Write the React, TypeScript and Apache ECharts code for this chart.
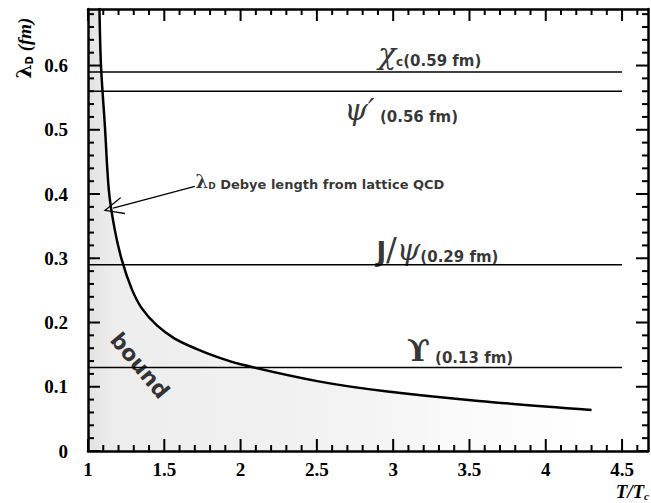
import React, { useEffect, useRef } from "react";
import * as echarts from "echarts";

// ---- axes ----
const X_MIN = 1;
const X_MAX = 4.67;
const X_INTERVAL = 0.5;
const X_MINOR = 0.1;
const Y_MIN = 0;
const Y_MAX = 0.688;
const Y_INTERVAL = 0.1;
const Y_MINOR = 0.02;

// ---- Debye screening length from lattice QCD (T/Tc -> fm) ----
const debyeT = [1.075, 1.085, 1.111, 1.137, 1.175, 1.222, 1.287, 1.353, 1.45, 1.568, 1.71, 1.84, 2.0, 2.52, 2.95, 3.56, 4.3];
const debyeL = [0.69, 0.6, 0.505, 0.405, 0.345, 0.297, 0.252, 0.222, 0.196, 0.175, 0.159, 0.147, 0.135, 0.108, 0.093, 0.078, 0.064];

// ---- quarkonium radii (fm) ----
const stateKeys = ["chi", "psi2S", "jpsi", "upsilon"];
const stateRadii = [0.59, 0.56, 0.29, 0.13];
const levelStart = 1;
const levelEnd = 4.5;

// ---- layout of annotations (data coordinates of label anchors) ----
const labelAnchors: Record<string, [number, number]> = {
  chi: [2.9, 0.622],
  psi2S: [2.68, 0.534],
  jpsi: [2.89, 0.316],
  upsilon: [3.09, 0.16],
};
const debyeAnchor: [number, number] = [1.705, 0.422];
const arrowFrom: [number, number] = [1.7, 0.412];
const arrowTo: [number, number] = [1.165, 0.378];
const boundAnchor: [number, number] = [1.34, 0.133];

const SANS = "'DejaVu Sans', sans-serif";
const SERIF = "'DejaVu Serif', serif";
const TIMES = "'Liberation Serif', 'Times New Roman', serif";

function stateLabel(key: string, r: number): string {
  const t = `(${r.toFixed(2)} fm)`;
  if (key === "chi") return `{g|χ}{s|c}{t|${t}}`;
  if (key === "psi2S") return `{g|ψ′}{t| ${t}}`;
  if (key === "jpsi") return `{j|J}{sl|/}{g|ψ}{t|${t}}`;
  return `{u|ϒ}{t| ${t}}`;
}

const richStyles = {
  g: { fontFamily: SERIF, fontStyle: "italic", fontSize: 30, color: "#000", verticalAlign: "bottom", lineHeight: 34 },
  s: { fontFamily: SANS, fontWeight: "bold", fontSize: 12, color: "#000", verticalAlign: "bottom", lineHeight: 20 },
  t: { fontFamily: SANS, fontWeight: "bold", fontSize: 15, color: "#000", verticalAlign: "bottom", lineHeight: 26 },
  j: { fontFamily: SANS, fontWeight: "bold", fontSize: 26, color: "#000", verticalAlign: "bottom", lineHeight: 32 },
  sl: { fontFamily: SANS, fontSize: 32, color: "#000", verticalAlign: "bottom", lineHeight: 34 },
  u: { fontFamily: SERIF, fontWeight: "bold", fontSize: 30, color: "#000", verticalAlign: "bottom", lineHeight: 34 },
};

// tick positions along the frame (structure of the axes)
function buildTicks(min: number, max: number, step: number, perMajor: number) {
  const out: { v: number; major: boolean }[] = [];
  const n = Math.floor((max - min) / step + 1e-6);
  for (let i = 0; i <= n; i++) {
    out.push({ v: Math.round((min + i * step) * 1000) / 1000, major: i % perMajor === 0 });
  }
  return out;
}

export default function App() {
  const ref = useRef<HTMLDivElement>(null);

  useEffect(() => {
    if (!ref.current) return;
    const chart = echarts.init(ref.current, null, { renderer: "svg" });

    const curve = debyeT.map((t, i) => [t, debyeL[i]]);
    const shade = [[X_MIN, Y_MAX], ...curve];

    const levelSeries = stateRadii.map((r, i) => ({
      type: "line",
      name: stateKeys[i],
      data: [
        [levelStart, r],
        [levelEnd, r],
      ],
      showSymbol: false,
      symbol: "none",
      silent: true,
      lineStyle: { color: "#000", width: 1.6 },
      z: 3,
    }));

    const annotations = stateKeys.map((k, i) => ({
      value: labelAnchors[k],
      label: { formatter: stateLabel(k, stateRadii[i]) },
    }));

    const axisCommonX = {
      type: "value",
      min: X_MIN,
      max: X_MAX,
      interval: X_INTERVAL,
      splitLine: { show: false },
      axisLine: { show: true, onZero: false, lineStyle: { color: "#000", width: 2.5 } },
      axisTick: { show: false },
      minorTick: { show: false },
    };
    const axisCommonY = {
      type: "value",
      min: Y_MIN,
      max: Y_MAX,
      interval: Y_INTERVAL,
      splitLine: { show: false },
      axisLine: { show: true, onZero: false, lineStyle: { color: "#000", width: 2.5 } },
      axisTick: { show: false },
      minorTick: { show: false },
    };
    const tickFont = { fontFamily: TIMES, fontWeight: "bold", fontSize: 19, color: "#000" };

    chart.setOption({
      animation: false,
      backgroundColor: "#fff",
      grid: { left: 88, right: 3, top: 9, bottom: 52, containLabel: false },
      xAxis: [
        {
          ...axisCommonX,
          position: "bottom",
          axisLabel: { ...tickFont, margin: 9, showMaxLabel: false, formatter: (v: number) => String(v) },
        },
        { ...axisCommonX, position: "top", axisLabel: { show: false } },
      ],
      yAxis: [
        {
          ...axisCommonY,
          position: "left",
          axisLabel: {
            ...tickFont,
            margin: 20,
            showMaxLabel: false,
            formatter: (v: number) => (v === 0 ? "0" : v.toFixed(1)),
          },
        },
        { ...axisCommonY, position: "right", axisLabel: { show: false } },
      ],
      series: [
        {
          type: "line",
          name: "shade",
          data: shade,
          smooth: 0.3,
          showSymbol: false,
          symbol: "none",
          silent: true,
          lineStyle: { width: 0 },
          areaStyle: {
            color: new echarts.graphic.LinearGradient(0, 0, 1, 0, [
              { offset: 0, color: "rgba(0,0,0,0.16)" },
              { offset: 0.05, color: "rgba(0,0,0,0.10)" },
              { offset: 0.5, color: "rgba(0,0,0,0.07)" },
              { offset: 0.75, color: "rgba(0,0,0,0.03)" },
              { offset: 1, color: "rgba(0,0,0,0.0)" },
            ]),
          },
          z: 1,
        },
        {
          type: "line",
          name: "Debye length",
          data: curve,
          smooth: 0.3,
          showSymbol: false,
          symbol: "none",
          silent: true,
          lineStyle: { color: "#000", width: 2.5 },
          z: 4,
          markLine: {
            silent: true,
            symbol: ["none", "path://M6,0 L12,16 L11,16 L6,2.5 L1,16 L0,16 Z"],
            symbolSize: [18, 20],
            lineStyle: { color: "#000", width: 1.3, type: "solid" },
            label: { show: false },
            data: [[{ coord: arrowFrom }, { coord: arrowTo }]],
          },
        },
        ...levelSeries,
        {
          type: "scatter",
          name: "labels",
          symbolSize: 0,
          silent: true,
          data: annotations,
          label: { show: true, position: "right", distance: 0, color: "#000", rich: richStyles },
          z: 5,
        },
        {
          type: "scatter",
          name: "debye label",
          symbolSize: 0,
          silent: true,
          data: [{ value: debyeAnchor }],
          label: {
            show: true,
            position: "right",
            distance: 0,
            formatter: "{l|λ}{d|D}{t| Debye length from lattice QCD}",
            rich: {
              l: { fontFamily: SERIF, fontWeight: "bold", fontSize: 18, color: "#000", verticalAlign: "bottom", lineHeight: 22 },
              d: { fontFamily: SANS, fontWeight: "bold", fontSize: 9, color: "#000", verticalAlign: "bottom", lineHeight: 12 },
              t: { fontFamily: SANS, fontWeight: "bold", fontSize: 13, color: "#000", verticalAlign: "bottom", lineHeight: 20 },
            },
          },
          z: 5,
        },
        {
          type: "scatter",
          name: "bound label",
          symbolSize: 0,
          silent: true,
          data: [{ value: boundAnchor }],
          label: {
            show: true,
            position: "inside",
            formatter: "bound",
            rotate: -50,
            fontFamily: SANS,
            fontWeight: "bold",
            fontSize: 22,
            color: "#000",
          },
          z: 5,
        },
      ],
    });

    // frame ticks on all four sides, positioned through the axes' own scales
    const px = (x: number, y: number) => chart.convertToPixel({ xAxisIndex: 0, yAxisIndex: 0 }, [x, y]) as number[];
    const tickEls: any[] = [];
    buildTicks(X_MIN, X_MAX, X_MINOR, Math.round(X_INTERVAL / X_MINOR)).forEach(({ v, major }) => {
      const len = major ? 12 : 6;
      const b = px(v, Y_MIN);
      const t = px(v, Y_MAX);
      tickEls.push({ type: "rect", silent: true, z: 100, shape: { x: b[0] - 1, y: b[1] - len, width: 2, height: len }, style: { fill: "#000" } });
      tickEls.push({ type: "rect", silent: true, z: 100, shape: { x: t[0] - 1, y: t[1], width: 2, height: len }, style: { fill: "#000" } });
    });
    buildTicks(Y_MIN, Y_MAX, Y_MINOR, Math.round(Y_INTERVAL / Y_MINOR)).forEach(({ v, major }) => {
      const len = major ? 12 : 6;
      const l = px(X_MIN, v);
      const r = px(X_MAX, v);
      tickEls.push({ type: "rect", silent: true, z: 100, shape: { x: l[0], y: l[1] - 1, width: len, height: 2 }, style: { fill: "#000" } });
      tickEls.push({ type: "rect", silent: true, z: 100, shape: { x: r[0] - len, y: r[1] - 1, width: len, height: 2 }, style: { fill: "#000" } });
    });

    chart.setOption({
      graphic: [
        {
          type: "text",
          x: 22,
          y: 48,
          rotation: Math.PI / 2,
          style: {
            text: "{l|λ}{d|D}{f| (fm)}",
            align: "center",
            verticalAlign: "middle",
            rich: {
              l: { fontFamily: SERIF, fontWeight: "bold", fontSize: 20, fill: "#000", verticalAlign: "bottom", lineHeight: 24 },
              d: { fontFamily: SANS, fontWeight: "bold", fontSize: 10, fill: "#000", verticalAlign: "bottom", lineHeight: 12 },
              f: { fontFamily: TIMES, fontWeight: "bold", fontStyle: "italic", fontSize: 19, fill: "#000", verticalAlign: "bottom", lineHeight: 24 },
            },
          },
        },
        {
          type: "text",
          right: 2,
          bottom: 2,
          style: {
            text: "{a|T/T}{c|c}",
            rich: {
              a: { fontFamily: TIMES, fontWeight: "bold", fontStyle: "italic", fontSize: 19, fill: "#000", verticalAlign: "bottom", lineHeight: 24 },
              c: { fontFamily: TIMES, fontWeight: "bold", fontStyle: "italic", fontSize: 11, fill: "#000", verticalAlign: "bottom", lineHeight: 10 },
            },
          },
        },
        ...tickEls,
      ],
    });

    return () => chart.dispose();
  }, []);

  return (
    <div
      ref={ref}
      style={{ position: "fixed", left: 0, top: 0, width: 651, height: 503, background: "#fff" }}
    />
  );
}
